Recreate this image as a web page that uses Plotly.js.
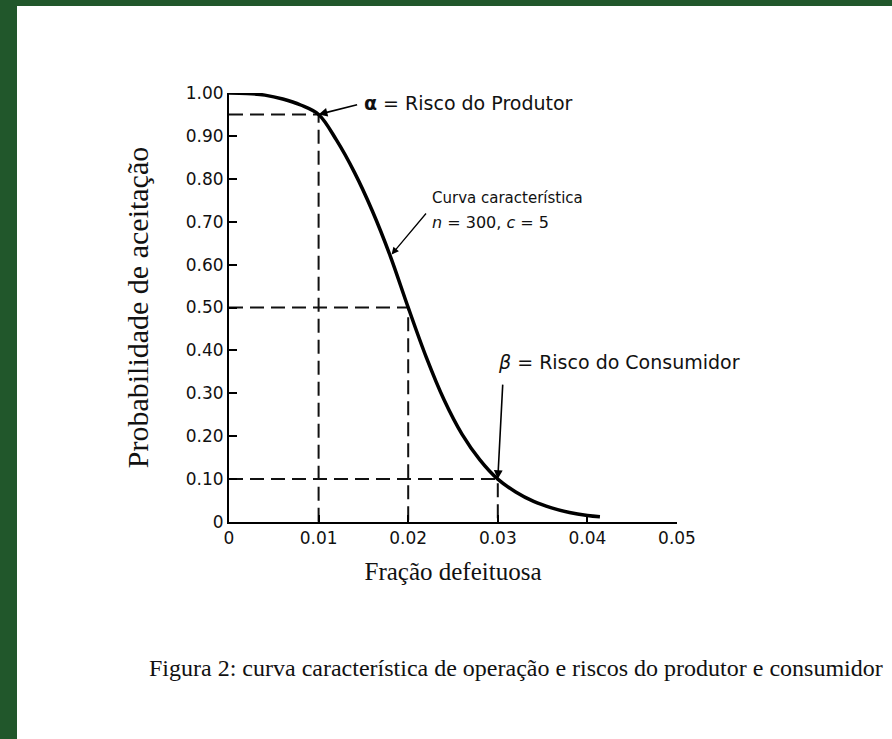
<!DOCTYPE html>
<html>
<head>
<meta charset="utf-8">
<script src="https://cdn.plot.ly/plotly-3.0.1.min.js"></script>
<style>
  html, body { margin: 0; padding: 0; width: 892px; height: 739px; background: #21572b; overflow: hidden; }
  #chart { position: absolute; left: 17px; top: 6px; width: 875px; height: 733px; }
</style>
</head>
<body>
<div id="chart"></div>
<script>
// OC curve (fraction defective p, probability of acceptance Pa)
const fracDefeituosa = [0, 0.002, 0.004, 0.006, 0.008, 0.010, 0.012, 0.014, 0.016, 0.018, 0.020, 0.022, 0.024, 0.026, 0.028, 0.030, 0.032, 0.034, 0.036, 0.038, 0.040, 0.0414];
const probAceitacao = [1.000, 0.999, 0.995, 0.986, 0.972, 0.950, 0.890, 0.815, 0.725, 0.620, 0.500, 0.385, 0.285, 0.205, 0.145, 0.100, 0.070, 0.048, 0.033, 0.022, 0.015, 0.012];

// reference points (dashed guides)
const riscoProdutor = { p: 0.01, pa: 0.95 };
const pontoMedio = { p: 0.02, pa: 0.50 };
const riscoConsumidor = { p: 0.03, pa: 0.10 };

// tick labels
const xTickVals = [0, 0.01, 0.02, 0.03, 0.04, 0.05];
const xTickText = ['0', '0.01', '0.02', '0.03', '0.04', '0.05'];
const yTickVals = [0, 0.1, 0.2, 0.3, 0.4, 0.5, 0.6, 0.7, 0.8, 0.9, 1.0];
const yTickText = ['0', '0.10', '0.20', '0.30', '0.40', '0.50', '0.60', '0.70', '0.80', '0.90', '1.00'];

const curveArrowIdx = 9;

function guide(pt) {
  return {
    x: [0, pt.p, pt.p], y: [pt.pa, pt.pa, 0],
    type: 'scatter', mode: 'lines', hoverinfo: 'skip', showlegend: false,
    line: { color: '#111', width: 2, dash: '14px,7px' }, cliponaxis: false
  };
}

const traces = [
  guide(riscoProdutor), guide(pontoMedio), guide(riscoConsumidor),
  {
    x: fracDefeituosa, y: probAceitacao, type: 'scatter', mode: 'lines',
    line: { color: '#000', width: 3.5, shape: 'spline', smoothing: 1 },
    showlegend: false, cliponaxis: false
  }
];

const sans = 'DejaVu Sans, sans-serif';
const serif = 'Liberation Serif, Times New Roman, serif';

const layout = {
  width: 875, height: 733,
  margin: { l: 212, r: 215, t: 87, b: 217 },
  paper_bgcolor: '#ffffff', plot_bgcolor: 'rgba(0,0,0,0)',
  showlegend: false,
  xaxis: {
    range: [0, 0.05], tickvals: xTickVals, ticktext: xTickText,
    showline: true, linecolor: '#000', linewidth: 2, mirror: false,
    ticks: 'inside', ticklen: 7, tickwidth: 2, tickcolor: '#000',
    showgrid: false, zeroline: false,
    tickfont: { family: sans, size: 17, color: '#111' },
    title: { text: 'Fração defeituosa', font: { family: serif, size: 25, color: '#111' }, standoff: 15 }
  },
  yaxis: {
    range: [0, 1], tickvals: yTickVals, ticktext: yTickText,
    showline: true, linecolor: '#000', linewidth: 2,
    ticks: 'inside', ticklen: 8, tickwidth: 2, tickcolor: '#000',
    showgrid: false, zeroline: false,
    tickfont: { family: sans, size: 17, color: '#111' },
    title: { text: 'Probabilidade de aceitação', font: { family: serif, size: 30, color: '#111' }, standoff: 28 }
  },
  annotations: [
    // arrows
    { x: riscoProdutor.p, y: riscoProdutor.pa, xref: 'x', yref: 'y', text: '', showarrow: true,
      ax: 40, ay: -10, arrowhead: 2, arrowsize: 1.1, arrowwidth: 1.6, arrowcolor: '#000', standoff: 0 },
    { x: fracDefeituosa[curveArrowIdx], y: probAceitacao[curveArrowIdx], xref: 'x', yref: 'y', text: '', showarrow: true,
      ax: 37, ay: -44, arrowhead: 2, arrowsize: 1.1, arrowwidth: 1.3, arrowcolor: '#000', standoff: 2 },
    { x: riscoConsumidor.p, y: riscoConsumidor.pa, xref: 'x', yref: 'y', text: '', showarrow: true,
      ax: 5, ay: -96, arrowhead: 2, arrowsize: 1.1, arrowwidth: 1.6, arrowcolor: '#000', standoff: 0 },
    // labels
    { x: 0.2969, y: 0.9767, xref: 'paper', yref: 'paper', xanchor: 'left', yanchor: 'middle', showarrow: false,
      text: '<b>α</b> = Risco do Produtor', font: { family: sans, size: 19, color: '#111' } },
    { x: 0.4487, y: 0.7552, xref: 'paper', yref: 'paper', xanchor: 'left', yanchor: 'middle', showarrow: false,
      text: 'Curva característica', font: { family: sans, size: 15, color: '#111' } },
    { x: 0.4487, y: 0.6993, xref: 'paper', yref: 'paper', xanchor: 'left', yanchor: 'middle', showarrow: false,
      text: '<i>n</i> = 300, <i>c</i> = 5', font: { family: sans, size: 16, color: '#111' } },
    { x: 0.596, y: 0.373, xref: 'paper', yref: 'paper', xanchor: 'left', yanchor: 'middle', showarrow: false,
      text: '<i>β</i> = Risco do Consumidor', font: { family: sans, size: 19, color: '#111' } },
    // caption
    { x: 0.6406, y: -0.3403, xref: 'paper', yref: 'paper', xanchor: 'center', yanchor: 'middle', showarrow: false,
      text: 'Figura 2: curva característica de operação e riscos do produtor e consumidor',
      font: { family: serif, size: 24, color: '#111' } }
  ]
};

Plotly.newPlot('chart', traces, layout, { staticPlot: true, displayModeBar: false });
</script>
</body>
</html>
